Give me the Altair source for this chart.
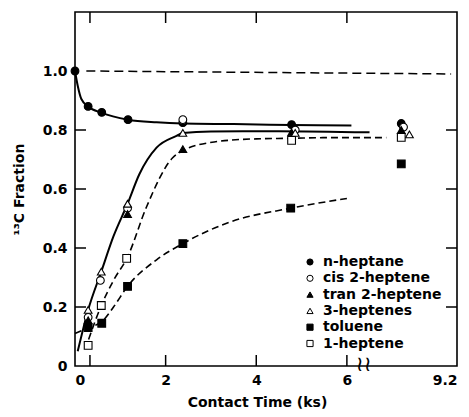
import altair as alt
import pandas as pd

# ---- data (x in displayed axis units; the axis is broken after 6, right end labelled 9.2) ----
series_order = ["n-heptane", "cis 2-heptene", "tran 2-heptene", "3-heptenes", "toluene", "1-heptene"]
series_shapes = ["circle", "circle", "triangle-up", "triangle-up", "square", "square"]
series_fills = ["black", "white", "black", "white", "black", "white"]
series_strokes = ["black"] * 6

nhep_x = [0.0, 0.29, 0.59, 1.17, 2.38, 4.78, 7.2]
nhep_y = [1.0, 0.88, 0.86, 0.835, 0.825, 0.818, 0.822]
cis_x = [0.29, 0.56, 1.16, 2.38, 4.86, 7.25]
cis_y = [0.165, 0.29, 0.535, 0.835, 0.80, 0.81]
tran_x = [0.29, 1.16, 2.38, 4.78, 7.2]
tran_y = [0.155, 0.515, 0.735, 0.792, 0.80]
hep3_x = [0.29, 0.58, 1.16, 2.38, 4.86, 7.38]
hep3_y = [0.19, 0.32, 0.55, 0.79, 0.79, 0.785]
tol_x = [0.29, 0.59, 1.16, 2.38, 4.76, 7.2]
tol_y = [0.13, 0.145, 0.27, 0.415, 0.535, 0.685]
hep1_x = [0.29, 0.58, 1.14, 4.78, 7.2]
hep1_y = [0.07, 0.205, 0.365, 0.765, 0.775]

# fitted curves
top_x = [0.25, 8.3]
top_y = [1.0, 0.99]
nhep_cx = [0.0, 0.06, 0.14, 0.29, 0.59, 1.17, 1.8, 2.38, 3.5, 4.78, 6.1]
nhep_cy = [1.0, 0.95, 0.905, 0.88, 0.858, 0.835, 0.826, 0.822, 0.82, 0.817, 0.815]
hep3_cx = [0.06, 0.29, 0.58, 0.85, 1.16, 1.42, 1.8, 2.24, 2.38, 3.0, 4.5, 6.5]
hep3_cy = [0.05, 0.19, 0.32, 0.44, 0.55, 0.65, 0.74, 0.78, 0.79, 0.795, 0.796, 0.792]
hep1_cx = [0.3, 0.58, 0.85, 1.16, 1.58, 2.15, 2.38, 3.1, 4.0, 4.78, 5.5, 6.87]
hep1_cy = [0.09, 0.205, 0.29, 0.37, 0.54, 0.705, 0.73, 0.76, 0.77, 0.772, 0.774, 0.774]
tol_cx = [0.0, 0.29, 0.59, 0.85, 1.16, 1.8, 2.38, 3.4, 4.76, 6.0]
tol_cy = [0.11, 0.13, 0.15, 0.2, 0.27, 0.36, 0.415, 0.487, 0.535, 0.568]

x_tick_vals = [0.33, 2, 4, 6]
y_tick_vals = [0.2, 0.4, 0.6, 0.8]
x_label_vals = [0, 2, 4, 6, 8.43]
y_label_vals = [0, 0.2, 0.4, 0.6, 0.8, 1.0]
x_break = [6.35]
XMAX = 8.43
YMAX = 1.2

W, H = 382, 354
FONT = "DejaVu Sans"

# ---- build tables ----
rows = []
for name, xs, ys in [
    ("n-heptane", nhep_x, nhep_y),
    ("cis 2-heptene", cis_x, cis_y),
    ("tran 2-heptene", tran_x, tran_y),
    ("3-heptenes", hep3_x, hep3_y),
    ("toluene", tol_x, tol_y),
    ("1-heptene", hep1_x, hep1_y),
]:
    for a, b in zip(xs, ys):
        rows.append({"x": a, "y": b, "series": name})
pts = pd.DataFrame(rows)

xscale = alt.Scale(domain=[0, XMAX], nice=False, zero=False)
yscale = alt.Scale(domain=[0, YMAX], nice=False, zero=False)

X = alt.X("x:Q", scale=xscale, axis=alt.Axis(
    values=x_label_vals, labelExpr="datum.value > 8 ? '9.2' : format(datum.value, 'd')",
    ticks=False, domain=False, grid=False, labelPadding=7, labelFont=FONT, labelFontSize=14,
    labelFontWeight="bold", labelColor="black", title="Contact Time (ks)", titleFont=FONT,
    titleFontSize=14, titleFontWeight="bold", titleColor="black", titlePadding=8, titleX=182))
Y = alt.Y("y:Q", scale=yscale, axis=alt.Axis(
    values=y_label_vals, labelExpr="datum.value == 0 ? '0' : format(datum.value, '.1f')",
    ticks=False, domain=False, grid=False, labelPadding=8, labelFont=FONT, labelFontSize=14,
    labelFontWeight="bold", labelColor="black", title="¹³C Fraction", titleFont=FONT,
    titleFontSize=14, titleFontWeight="bold", titleColor="black", titlePadding=16))


def curve(xs, ys, dash=None, width=1.6):
    df = pd.DataFrame({"x": xs, "y": ys})
    kw = dict(color="black", strokeWidth=width, interpolate="monotone")
    if dash:
        kw["strokeDash"] = dash
    return alt.Chart(df).mark_line(**kw).encode(x=X, y=Y)


lines = [
    curve(top_x, top_y, dash=[9, 5], width=1.5),
    curve(nhep_cx, nhep_cy, width=2),
    curve(hep3_cx, hep3_cy, width=2),
    curve(hep1_cx, hep1_cy, dash=[7, 4], width=1.6),
    curve(tol_cx, tol_cy, dash=[7, 4], width=1.6),
]

TL = 11
yt = pd.DataFrame({"y": y_tick_vals})
xt = pd.DataFrame({"x": x_tick_vals})
ticks = [
    alt.Chart(yt).mark_rule(color="black", strokeWidth=1.5).encode(y=Y, x=alt.value(0), x2=alt.value(TL)),
    alt.Chart(yt).mark_rule(color="black", strokeWidth=1.5).encode(y=Y, x=alt.value(W - TL), x2=alt.value(W)),
    alt.Chart(xt).mark_rule(color="black", strokeWidth=1.5).encode(x=X, y=alt.value(0), y2=alt.value(TL)),
    alt.Chart(xt).mark_rule(color="black", strokeWidth=1.5).encode(x=X, y=alt.value(H - TL), y2=alt.value(H)),
]

brk = alt.Chart(pd.DataFrame({"x": x_break, "y": [0.0]})).mark_text(
    text="≀≀", font=FONT, fontSize=21, color="black", dx=1, dy=-1
).encode(x=X, y=Y)

points = alt.Chart(pts).mark_point(
    size=60, strokeWidth=1.1, opacity=1, fillOpacity=1
).encode(
    x=X, y=Y,
    shape=alt.Shape("series:N", scale=alt.Scale(domain=series_order, range=series_shapes),
                    legend=alt.Legend(title=None)),
    fill=alt.Fill("series:N", scale=alt.Scale(domain=series_order, range=series_fills),
                  legend=alt.Legend(title=None)),
    stroke=alt.Stroke("series:N", scale=alt.Scale(domain=series_order, range=series_strokes),
                      legend=alt.Legend(title=None)),
)

chart = alt.layer(*lines, *ticks, brk, points).properties(
    width=W, height=H,
    autosize=alt.AutoSizeParams(type="none"),
    padding={"left": 75, "top": 12, "right": 12, "bottom": 51},
).configure_view(
    stroke="black", strokeWidth=1.6
).configure_legend(
    orient="none", legendX=228, legendY=243, padding=0, rowPadding=2.3,
    labelFont=FONT, labelFontSize=14, labelFontWeight="bold", labelColor="black",
    labelOffset=6, symbolSize=38, symbolStrokeWidth=1, symbolOpacity=1,
)

chart.save("out.html", embed_options={"renderer": "svg", "actions": False})
